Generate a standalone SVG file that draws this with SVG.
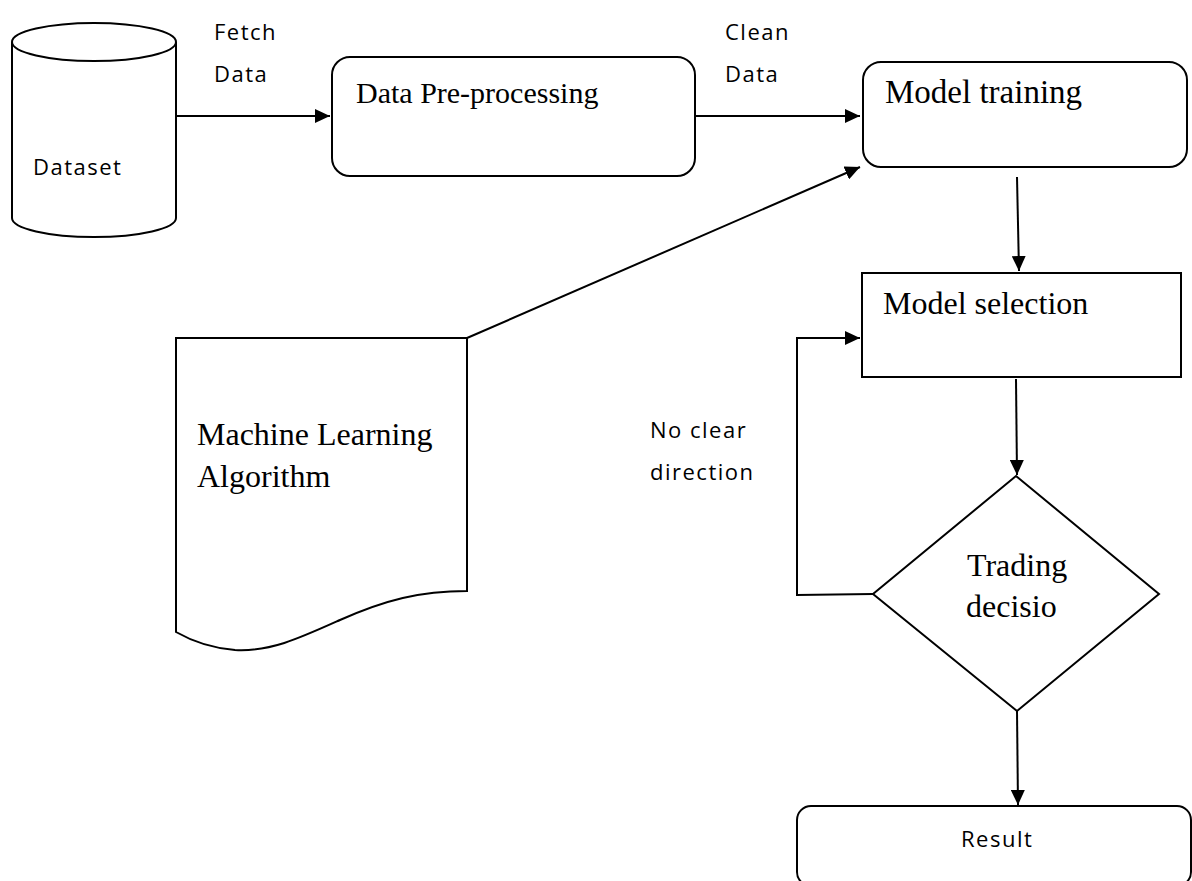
<svg xmlns="http://www.w3.org/2000/svg" width="1192" height="881" viewBox="0 0 1192 881">
<style>
.s{fill:#fff;stroke:#000;stroke-width:2}
.c{fill:none;stroke:#000;stroke-width:2}
.serif{font-family:"Liberation Serif","Times New Roman",serif;font-size:32px;fill:#000}
.sans{font-family:"Open Sans","Noto Sans",sans-serif;font-size:22px;letter-spacing:1.5px;fill:#000}
</style>
<defs>
<marker id="ah" markerUnits="userSpaceOnUse" markerWidth="16" markerHeight="14" refX="15" refY="7" orient="auto">
<path d="M0,0 L15,7 L0,14 Z" fill="#000"/>
</marker>
</defs>
<rect width="1192" height="881" fill="#fff"/>
<g id="connectors">
<line class="c" x1="176" y1="116" x2="330" y2="116" marker-end="url(#ah)"/>
<line class="c" x1="695" y1="116" x2="860" y2="116" marker-end="url(#ah)"/>
<line class="c" x1="467" y1="338" x2="860" y2="167" marker-end="url(#ah)"/>
<line class="c" x1="1017" y1="177" x2="1019" y2="271" marker-end="url(#ah)"/>
<line class="c" x1="1016" y1="379" x2="1017" y2="475" marker-end="url(#ah)"/>
<polyline class="c" points="873,594 797,595 797,338 860,338" marker-end="url(#ah)"/>
<line class="c" x1="1017" y1="711" x2="1018" y2="805" marker-end="url(#ah)"/>
</g>
<g id="label-fetch">
<text class="sans" x="214" y="40">Fetch</text>
<text class="sans" x="214" y="82">Data</text>
</g>
<g id="label-clean">
<text class="sans" x="725" y="40">Clean</text>
<text class="sans" x="725" y="82">Data</text>
</g>
<g id="label-noclear">
<text class="sans" x="650" y="438">No clear</text>
<text class="sans" x="650" y="480">direction</text>
</g>
<g id="dataset">
<path class="s" d="M12,42 V218 A82,19 0 0 0 176,218 V42"/>
<ellipse class="s" cx="94" cy="42" rx="82" ry="19"/>
<text class="sans" x="33" y="175">Dataset</text>
</g>
<g id="preprocessing">
<rect class="s" x="332" y="57" width="363" height="119" rx="18"/>
<text class="serif" x="356" y="103" style="font-size:30px">Data Pre-processing</text>
</g>
<g id="training">
<rect class="s" x="863" y="62" width="324" height="105" rx="18"/>
<text class="serif" x="885" y="103" style="font-size:33px">Model training</text>
</g>
<g id="algorithm">
<path class="s" d="M176,338 H467 V591 C420,591 385,600 340,620 C300,638 270,652 235,650 C210,648 190,640 176,632 Z"/>
<text class="serif" x="197" y="445">Machine Learning</text>
<text class="serif" x="197" y="487">Algorithm</text>
</g>
<g id="selection">
<rect class="s" x="862" y="273" width="319" height="104"/>
<text class="serif" x="883" y="314">Model selection</text>
</g>
<g id="decision">
<polygon class="s" points="1016,476 1159,594 1017,711 873,594"/>
<text class="serif" x="967" y="576">Trading</text>
<text class="serif" x="966" y="617">decisio</text>
</g>
<g id="result">
<rect class="s" x="797" y="806" width="394" height="80" rx="14"/>
<text class="sans" x="961" y="847">Result</text>
</g>
</svg>
